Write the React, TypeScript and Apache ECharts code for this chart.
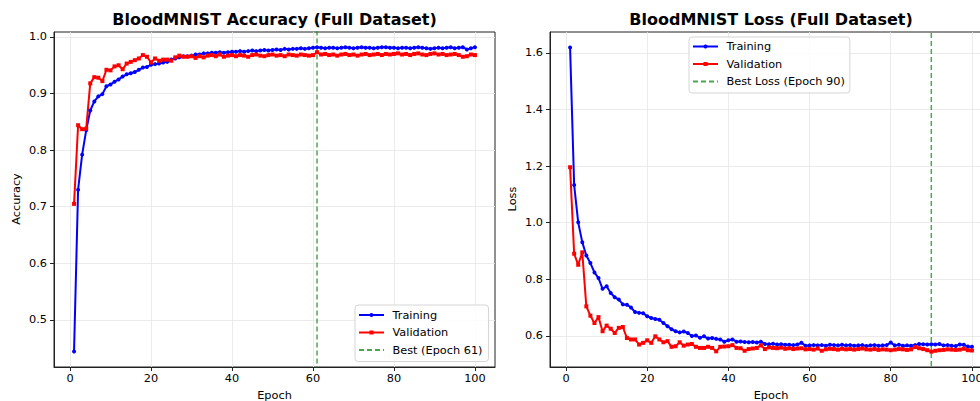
import React, { useEffect, useRef } from "react";
import * as echarts from "echarts";

const epochs: number[] = Array.from({ length: 100 }, (_, i) => i + 1);

const trainAcc: number[] = [
  0.444, 0.730, 0.792, 0.835, 0.870, 0.886, 0.895, 0.899, 0.913, 0.916,
  0.921, 0.925, 0.930, 0.934, 0.936, 0.938, 0.942, 0.946, 0.947, 0.951,
  0.952, 0.953, 0.955, 0.956, 0.960, 0.962, 0.964, 0.966, 0.966, 0.967,
  0.969, 0.969, 0.971, 0.971, 0.972, 0.972, 0.973, 0.972, 0.973, 0.974,
  0.974, 0.975, 0.974, 0.975, 0.976, 0.975, 0.976, 0.977, 0.976, 0.977,
  0.978, 0.977, 0.979, 0.978, 0.979, 0.979, 0.980, 0.979, 0.980, 0.981,
  0.982, 0.981, 0.980, 0.981, 0.981, 0.980, 0.981, 0.982, 0.981, 0.980,
  0.981, 0.982, 0.981, 0.981, 0.980, 0.981, 0.982, 0.982, 0.981, 0.981,
  0.980, 0.981, 0.981, 0.980, 0.981, 0.982, 0.981, 0.980, 0.979, 0.980,
  0.981, 0.980, 0.981, 0.982, 0.980, 0.981, 0.982, 0.978, 0.980, 0.982,
];

const valAcc: number[] = [
  0.705, 0.844, 0.837, 0.838, 0.918, 0.929, 0.928, 0.922, 0.942, 0.941,
  0.948, 0.950, 0.943, 0.953, 0.956, 0.959, 0.962, 0.968, 0.965, 0.955,
  0.962, 0.958, 0.960, 0.960, 0.958, 0.964, 0.967, 0.965, 0.965, 0.966,
  0.963, 0.966, 0.964, 0.967, 0.968, 0.966, 0.969, 0.965, 0.967, 0.968,
  0.966, 0.968, 0.967, 0.965, 0.968, 0.969, 0.967, 0.966, 0.968, 0.969,
  0.967, 0.968, 0.966, 0.969, 0.968, 0.967, 0.969, 0.968, 0.967, 0.968,
  0.973, 0.969, 0.970, 0.968, 0.969, 0.967, 0.969, 0.970, 0.968, 0.969,
  0.967, 0.969, 0.970, 0.968, 0.969, 0.970, 0.968, 0.970, 0.969, 0.970,
  0.971, 0.969, 0.970, 0.968, 0.970, 0.971, 0.969, 0.968, 0.970, 0.971,
  0.969, 0.970, 0.968, 0.969, 0.970, 0.968, 0.965, 0.966, 0.969, 0.968,
];

const trainLoss: number[] = [
  1.619, 1.133, 1.001, 0.931, 0.884, 0.857, 0.824, 0.804, 0.766, 0.775,
  0.751, 0.736, 0.728, 0.711, 0.710, 0.700, 0.684, 0.681, 0.680, 0.669,
  0.663, 0.659, 0.657, 0.645, 0.634, 0.623, 0.616, 0.612, 0.615, 0.610,
  0.599, 0.601, 0.593, 0.598, 0.590, 0.592, 0.589, 0.587, 0.579, 0.584,
  0.587, 0.579, 0.580, 0.578, 0.577, 0.578, 0.576, 0.579, 0.571, 0.570,
  0.572, 0.569, 0.570, 0.568, 0.568, 0.567, 0.569, 0.575, 0.565, 0.566,
  0.567, 0.566, 0.567, 0.565, 0.568, 0.567, 0.566, 0.568, 0.566, 0.567,
  0.565, 0.566, 0.567, 0.564, 0.566, 0.567, 0.565, 0.566, 0.567, 0.576,
  0.566, 0.568, 0.565, 0.566, 0.565, 0.567, 0.571, 0.570, 0.569, 0.570,
  0.569, 0.571, 0.566, 0.567, 0.565, 0.564, 0.569, 0.568, 0.562, 0.561,
];

const valLoss: number[] = [
  1.196, 0.890, 0.851, 0.895, 0.704, 0.671, 0.645, 0.666, 0.616, 0.636,
  0.625, 0.610, 0.628, 0.631, 0.592, 0.587, 0.587, 0.569, 0.575, 0.584,
  0.575, 0.598, 0.587, 0.577, 0.581, 0.561, 0.563, 0.577, 0.565, 0.569,
  0.571, 0.561, 0.557, 0.557, 0.561, 0.557, 0.545, 0.561, 0.562, 0.563,
  0.567, 0.557, 0.556, 0.547, 0.553, 0.555, 0.557, 0.566, 0.553, 0.559,
  0.557, 0.556, 0.558, 0.554, 0.556, 0.553, 0.555, 0.556, 0.552, 0.553,
  0.551, 0.555, 0.547, 0.552, 0.554, 0.553, 0.551, 0.554, 0.552, 0.553,
  0.551, 0.553, 0.555, 0.552, 0.551, 0.553, 0.550, 0.552, 0.551, 0.549,
  0.551, 0.553, 0.552, 0.550, 0.552, 0.560, 0.556, 0.553, 0.549, 0.544,
  0.547, 0.549, 0.550, 0.552, 0.551, 0.550, 0.551, 0.554, 0.549, 0.548,
];

const xTicks: number[] = [0, 20, 40, 60, 80, 100];
const accTicks: number[] = [0.5, 0.6, 0.7, 0.8, 0.9, 1.0];
const lossTicks: number[] = [0.6, 0.8, 1.0, 1.2, 1.4, 1.6];

const bestAccEpoch = 61;
const bestLossEpoch = 90;

const titles = ["BloodMNIST Accuracy (Full Dataset)", "BloodMNIST Loss (Full Dataset)"];
const legendNames = ["Training", "Validation"];
const bestNames = [`Best (Epoch ${bestAccEpoch})`, `Best Loss (Epoch ${bestLossEpoch})`];

const FONT = "DejaVu Sans";
const FS = 11.3;
const TITLE_FS = 16;

function pairs(ys: number[]) {
  return ys.map((y, i) => [epochs[i], y]);
}

export default function App() {
  const ref = useRef<HTMLDivElement>(null);

  useEffect(() => {
    if (!ref.current) return;
    const chart = echarts.init(ref.current, undefined, { renderer: "svg" });

    const G = [
      { left: 54, top: 32, width: 441, height: 335 },
      { left: 550, top: 32, width: 442, height: 335 },
    ];

    const axisCommon = {
      axisLine: { show: true, onZero: false, lineStyle: { color: "#222", width: 1 } },
      axisTick: { show: true, inside: false, length: 4, lineStyle: { color: "#222", width: 1 } },
      splitLine: { show: true, lineStyle: { color: "#e6e6e6", width: 0.8 } },
    };

    const xAxis = [0, 1].map((gi) => ({
      type: "value",
      gridIndex: gi,
      min: -3.95,
      max: 104.95,
      ...axisCommon,
      axisTick: { ...axisCommon.axisTick, customValues: xTicks },
      axisLabel: {
        customValues: xTicks,
        fontSize: FS,
        color: "#000",
        fontFamily: FONT,
        margin: 6,
        formatter: (v: number) => String(Math.round(v)),
      },
    }));

    const yLabel = (ticks: number[]) => ({
      customValues: ticks,
      fontSize: FS,
      color: "#000",
      fontFamily: FONT,
      margin: 7,
      formatter: (v: number) => v.toFixed(1),
    });

    const yAxis = [
      {
        type: "value",
        gridIndex: 0,
        min: 0.4166,
        max: 1.0088,
        ...axisCommon,
        axisTick: { ...axisCommon.axisTick, customValues: accTicks },
        axisLabel: yLabel(accTicks),
      },
      {
        type: "value",
        gridIndex: 1,
        min: 0.4896,
        max: 1.674,
        ...axisCommon,
        axisTick: { ...axisCommon.axisTick, customValues: lossTicks },
        axisLabel: yLabel(lossTicks),
      },
    ];

    const lineSeries = (name: string, data: number[], gi: number, color: string, symbol: string) => ({
      name,
      type: "line",
      xAxisIndex: gi,
      yAxisIndex: gi,
      data: pairs(data),
      symbol,
      symbolSize: 4,
      showSymbol: true,
      lineStyle: { color, width: 2 },
      itemStyle: { color, borderWidth: 0 },
      z: 3,
    });

    const green = "rgba(0,128,0,0.7)";
    const bestSeries = (name: string, epoch: number, gi: number) => ({
      name,
      type: "line",
      xAxisIndex: gi,
      yAxisIndex: gi,
      data: [
        [epoch, -10],
        [epoch, 10],
      ],
      symbol: "none",
      clip: true,
      lineStyle: { color: green, width: 1.5, type: [5, 3] },
      itemStyle: { color: green },
      z: 2,
    });

    const legendCommon = {
      orient: "vertical",
      itemWidth: 25,
      itemHeight: 5,
      itemGap: 4.5,
      backgroundColor: "rgba(255,255,255,0.85)",
      borderColor: "#d5d5d5",
      borderWidth: 1,
      borderRadius: 3,
      selectedMode: false,
      textStyle: { fontSize: FS, color: "#000", fontFamily: FONT, lineHeight: 13, padding: [0, 0, 0, 3.5] },
    };

    const legendData = (best: string) => [
      legendNames[0],
      legendNames[1],
      { name: best, itemStyle: { opacity: 0 } },
    ];

    const option: any = {
      animation: false,
      textStyle: { fontFamily: FONT },
      grid: G.map((g) => ({
        ...g,
        show: true,
        borderColor: "#222",
        borderWidth: 1,
        backgroundColor: "#fff",
        containLabel: false,
      })),
      xAxis,
      yAxis,
      legend: [
        { ...legendCommon, data: legendData(bestNames[0]), left: 355, top: 305, padding: [3.5, 6, 5, 3] },
        { ...legendCommon, data: legendData(bestNames[1]), left: 689, top: 37, padding: [3, 5, 5, 3] },
      ],
      series: [
        lineSeries(legendNames[0], trainAcc, 0, "#0000ff", "circle"),
        lineSeries(legendNames[1], valAcc, 0, "#ff0000", "rect"),
        bestSeries(bestNames[0], bestAccEpoch, 0),
        lineSeries(legendNames[0], trainLoss, 1, "#0000ff", "circle"),
        lineSeries(legendNames[1], valLoss, 1, "#ff0000", "rect"),
        bestSeries(bestNames[1], bestLossEpoch, 1),
      ],
      graphic: [
        {
          type: "text",
          x: 274.5,
          y: 19,
          style: {
            text: titles[0],
            font: `bold ${TITLE_FS}px "${FONT}"`,
            fill: "#000",
            textAlign: "center",
            textVerticalAlign: "middle",
          },
        },
        {
          type: "text",
          x: 771,
          y: 19,
          style: {
            text: titles[1],
            font: `bold ${TITLE_FS}px "${FONT}"`,
            fill: "#000",
            textAlign: "center",
            textVerticalAlign: "middle",
          },
        },
        {
          type: "text",
          x: 274.5,
          y: 395,
          style: { text: "Epoch", font: `${FS}px "${FONT}"`, fill: "#000", textAlign: "center", textVerticalAlign: "middle" },
        },
        {
          type: "text",
          x: 771,
          y: 395,
          style: { text: "Epoch", font: `${FS}px "${FONT}"`, fill: "#000", textAlign: "center", textVerticalAlign: "middle" },
        },
        {
          type: "text",
          x: 16,
          y: 199,
          rotation: Math.PI / 2,
          style: { text: "Accuracy", font: `${FS}px "${FONT}"`, fill: "#000", textAlign: "center", textVerticalAlign: "middle" },
        },
        {
          type: "text",
          x: 512,
          y: 199,
          rotation: Math.PI / 2,
          style: { text: "Loss", font: `${FS}px "${FONT}"`, fill: "#000", textAlign: "center", textVerticalAlign: "middle" },
        },
      ],
    };

    chart.setOption(option);
    return () => chart.dispose();
  }, []);

  return (
    <div style={{ position: "fixed", left: 0, top: 0, width: 980, height: 401, overflow: "hidden", background: "#fff" }}>
      <div ref={ref} style={{ width: 1000, height: 401 }} />
    </div>
  );
}
